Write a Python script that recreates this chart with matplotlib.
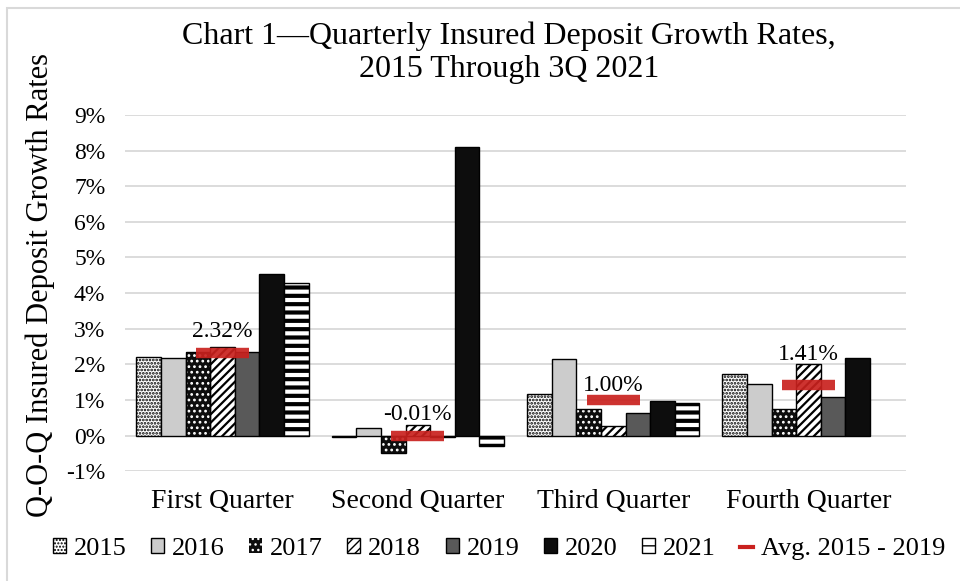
import matplotlib.pyplot as plt
import numpy as np
from matplotlib.patches import Patch, Rectangle
from matplotlib.lines import Line2D

plt.rcParams['font.family'] = ['Liberation Serif', 'DejaVu Serif']

# quarter-over-quarter insured deposit growth, percent
quarters = ['First Quarter', 'Second Quarter', 'Third Quarter', 'Fourth Quarter']
years = ['2015', '2016', '2017', '2018', '2019', '2020', '2021']
g2015 = [2.22, -0.03, 1.18, 1.74]
g2016 = [2.18, 0.20, 2.15, 1.45]
g2017 = [2.36, -0.50, 0.75, 0.75]
g2018 = [2.50, 0.30, 0.28, 2.00]
g2019 = [2.34, -0.03, 0.62, 1.08]
g2020 = [4.53, 8.10, 0.98, 2.19]
g2021 = [4.28, -0.28, 0.92, np.nan]
avg_2015_2019 = [2.32, -0.01, 1.00, 1.41]
label_offsets = [8, 8, 3, 15]  # points above the avg marker

series = [g2015, g2016, g2017, g2018, g2019, g2020, g2021]
# face colour, hatch, hatch colour, hatch linewidth
styles = [
    ('white', '.....', 'black', 1.3),
    ('#CCCCCC', None, 'black', 1.0),
    ('#0D0D0D', '...', 'white', 1.2),
    ('white', '////', 'black', 1.6),
    ('#595959', None, 'black', 1.0),
    ('#0D0D0D', None, 'black', 1.0),
    ('white', '--', 'black', 3.0),
]

fig = plt.figure(figsize=(9.6, 5.81), dpi=100)
ax = fig.add_axes([0.130, 0.189, 0.814, 0.613])

x = np.arange(len(quarters))
width = 0.126
for i, (vals, (fc, hatch, hc, hlw)) in enumerate(zip(series, styles)):
    pos = x + (i - 3) * width
    with plt.rc_context({'hatch.linewidth': hlw}):
        if hc == 'white':
            ax.bar(pos, vals, width, color=fc, edgecolor='white', hatch=hatch, lw=0, zorder=2)
            ax.bar(pos, vals, width, fill=False, edgecolor='black', lw=1.0, zorder=3)
        else:
            ax.bar(pos, vals, width, color=fc, edgecolor='black', hatch=hatch, lw=1.0, zorder=2)

ax.hlines(avg_2015_2019, x - 0.135, x + 0.135, color='#C9211E', lw=7.5, alpha=0.92, zorder=4)
for xi, v, off in zip(x, avg_2015_2019, label_offsets):
    ax.annotate(f'{v:.2f}%', (xi, v), xytext=(0, off), textcoords='offset points',
                ha='center', va='bottom', fontsize=17, zorder=5)

ax.set_xlim(-0.5, 3.5)
ax.set_ylim(-1, 9)
ax.set_yticks(range(-1, 10))
ax.set_yticklabels([f'{v}%' for v in range(-1, 10)], fontsize=17)
ax.set_xticks(x)
ax.set_xticklabels(quarters, fontsize=20)
ax.tick_params(axis='y', length=0, pad=14)
ax.tick_params(axis='x', length=0, pad=13)
ax.grid(axis='y', color='#D9D9D9', lw=1.3, zorder=0)
ax.set_axisbelow(True)
for s in ax.spines.values():
    s.set_visible(False)

fig.text(0.530, 0.909, 'Chart 1\u2014Quarterly Insured Deposit Growth Rates,\n2015 Through 3Q 2021',
         ha='center', va='center', fontsize=23, linespacing=1.15)
fig.text(0.042, 0.509, 'Q-O-Q Insured Deposit Growth Rates', rotation=90,
         ha='center', va='center', fontsize=22)

handles = []
for fc, hatch, hc, hlw in styles:
    if hc == 'white':
        handles.append(Patch(facecolor=fc, edgecolor='white', hatch=hatch, lw=0))
    else:
        handles.append(Patch(facecolor=fc, edgecolor='black', hatch=hatch, lw=1.0))
handles.append(Line2D([], [], color='#C9211E', lw=3))
fig.legend(handles, years + ['Avg. 2015 - 2019'], loc='center', bbox_to_anchor=(0.52, 0.055),
           ncol=8, frameon=False, fontsize=19, handlelength=0.5, handleheight=0.5,
           handletextpad=0.3, columnspacing=0.92, borderpad=0)

fig.patches.append(Rectangle((0.0073, -0.05), 1.2, 1.036, transform=fig.transFigure,
                             fill=False, edgecolor='#D9D9D9', lw=1.5))

fig.savefig('out.png', dpi=100)
